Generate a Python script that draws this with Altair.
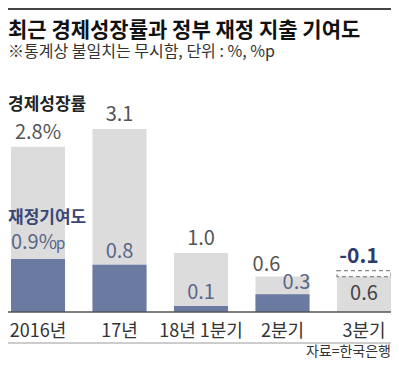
import altair as alt
import pandas as pd

# ---- data ----
categories = ["2016년", "17년", "18년 1분기", "2분기", "3분기"]
growth = [2.8, 3.1, 1.0, 0.6, 0.6]
fiscal = [0.9, 0.8, 0.1, 0.3, -0.1]
growth_labels = ["2.8%", "3.1", "1.0", "0.6", "0.6"]
fiscal_labels = ["0.9%p", "0.8", "0.1", "0.3", "-0.1"]
series_names = ["경제성장률", "재정기여도"]
title_text = "최근 경제성장률과 정부 재정 지출 기여도"
subtitle_text = "※통계상 불일치는 무시함, 단위 : %, %p"
source_text = "자료=한국은행"

# ---- layout ----
W, H = 383, 354
FONT = "Noto Sans CJK KR"
GRAY = "#dcdcdc"
BLUE = "#6b7aa1"
NAVY = "#3a4777"

df = pd.DataFrame(dict(cat=categories, growth=growth, fiscal=fiscal,
                       gl=growth_labels, fl=fiscal_labels))
df["no_fiscal"] = df.growth - df.fiscal
df["crowded"] = (df.fiscal > 0) & ((df.growth - df.fiscal) < 0.4)
df["neg"] = df.fiscal < 0
df["has_p"] = df.fl.str.endswith("%p")
df["fl_main"] = df.fl.str.replace("%p", "%", regex=False)
df["fl_suffix"] = "p"

xenc = alt.X("cat:N", sort=categories,
             scale=alt.Scale(range=[3, W], paddingInner=0.337, paddingOuter=0),
             axis=None)
yscale = alt.Scale(domain=[-0.8475, 5.1525], nice=False, zero=False)


def Y(field):
    return alt.Y(field, scale=yscale, axis=None)


base = alt.Chart(df)

gray_bars = base.mark_bar(color=GRAY).encode(x=xenc, y=Y("growth:Q"), y2=alt.datum(0))
blue_bars = base.transform_filter("datum.fiscal > 0").mark_bar(color=BLUE).encode(
    x=xenc, y=Y("fiscal:Q"), y2=alt.datum(0))
dash_box = base.transform_filter("datum.fiscal < 0").mark_bar(
    fillOpacity=0, stroke="#888888", strokeWidth=1.3, strokeDash=[4, 3]).encode(
    x=xenc, y=Y("no_fiscal:Q"), y2="growth:Q")

lbl = dict(font=FONT, fontSize=20, baseline="alphabetic", align="center")

g_norm = base.transform_filter("!datum.crowded && !datum.neg").mark_text(
    color="#555555", dy=-8, **lbl).encode(x=xenc, y=Y("growth:Q"), text="gl:N")
g_crowd = base.transform_filter("datum.crowded").mark_text(
    color="#555555", dy=-6, dx=-16, **lbl).encode(x=xenc, y=Y("growth:Q"), text="gl:N")
g_neg = base.transform_filter("datum.neg").mark_text(
    color="#444444", dy=23, **lbl).encode(x=xenc, y=Y("growth:Q"), text="gl:N")

f_norm = base.transform_filter("datum.fiscal > 0 && !datum.crowded && !datum.has_p").mark_text(
    color="#5a6688", dy=-7, **lbl).encode(x=xenc, y=Y("fiscal:Q"), text="fl:N")
f_main_p = base.transform_filter("datum.fiscal > 0 && datum.has_p").mark_text(
    color="#5a6688", dy=-10, dx=-4, **lbl).encode(x=xenc, y=Y("fiscal:Q"), text="fl_main:N")
f_suffix_p = base.transform_filter("datum.fiscal > 0 && datum.has_p").mark_text(
    color="#5a6688", dy=-10, dx=18, font=FONT, fontSize=15, baseline="alphabetic",
    align="left").encode(x=xenc, y=Y("fiscal:Q"), text="fl_suffix:N")
f_crowd = base.transform_filter("datum.crowded").mark_text(
    color="#5a6688", dy=-5, dx=14, **lbl).encode(x=xenc, y=Y("fiscal:Q"), text="fl:N")
f_neg = base.transform_filter("datum.neg").mark_text(
    color="#2e3b6b", dy=-8, dx=-5, fontWeight="bold", font=FONT, fontSize=21,
    baseline="alphabetic", align="center").encode(x=xenc, y=Y("no_fiscal:Q"), text="fl:N")

x_labels = base.mark_text(font=FONT, fontSize=18, color="#333333",
                          baseline="alphabetic", align="center").encode(
    x=xenc, y=alt.value(329), text="cat:N")

one = pd.DataFrame({"k": [0]})
zero_line = alt.Chart(one).mark_rule(color="#555555", strokeWidth=1.5).encode(
    x=alt.value(0), x2=alt.value(W), y=alt.value(304))
bottom_line = alt.Chart(one).mark_rule(color="#9a9a9a", strokeWidth=1).encode(
    x=alt.value(0), x2=alt.value(W), y=alt.value(335))
top_line = alt.Chart(one).mark_rule(color="#444444", strokeWidth=2).encode(
    x=alt.value(0), x2=alt.value(W), y=alt.value(1))


def note(text, x, y, size, color, weight="normal", align="left"):
    return alt.Chart(pd.DataFrame({"t": [text]})).mark_text(
        font=FONT, fontSize=size, color=color, fontWeight=weight, align=align,
        baseline="alphabetic").encode(x=alt.value(x), y=alt.value(y), text="t:N")


title = note(title_text, 0, 29, 21, "#111111", "bold")
subtitle = note(subtitle_text, 0, 49, 16, "#333333")
leg1 = note(series_names[0], 0, 102, 17, "#222222", "bold")
leg2 = note(series_names[1], 0, 215, 17, NAVY, "bold")
source = note(source_text, W, 348, 14, "#333333", align="right")

chart = alt.layer(
    gray_bars, blue_bars, dash_box,
    g_norm, g_crowd, g_neg, f_norm, f_main_p, f_suffix_p, f_crowd, f_neg,
    x_labels, zero_line, bottom_line, top_line,
    title, subtitle, leg1, leg2, source,
).properties(
    width=W, height=H, padding=0,
    autosize=alt.AutoSizeParams(type="none"),
).configure_view(stroke=None)

chart.save("out.html", embed_options={"renderer": "svg", "actions": False})
